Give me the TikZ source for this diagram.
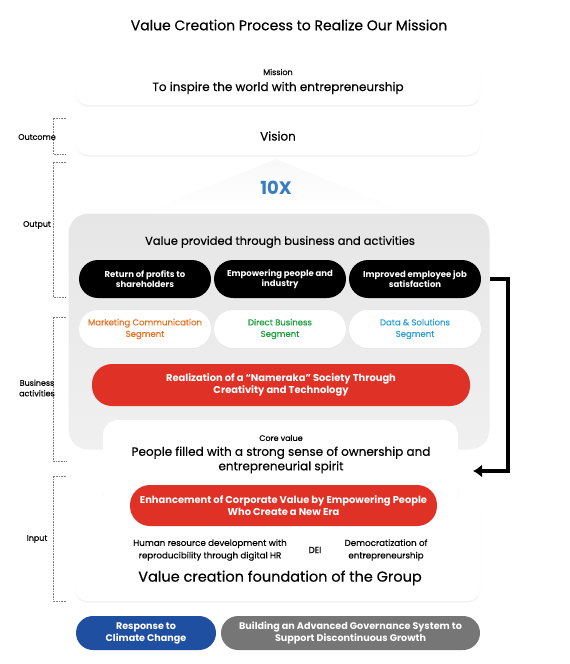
\documentclass[tikz,border=0pt]{standalone}
\usepackage{fontspec}
\setmainfont{Poppins}[FakeBold=0.35, BoldFeatures={FakeBold=0}]
\usetikzlibrary{arrows.meta,shadows}
\definecolor{tenxblue}{HTML}{3A7CC2}
\definecolor{segorange}{HTML}{E8701F}
\definecolor{seggreen}{HTML}{1E9E3E}
\definecolor{segblue}{HTML}{2BA0D9}
\definecolor{pillred}{HTML}{E03126}
\definecolor{climateblue}{HTML}{1F4FA0}
\definecolor{govgray}{HTML}{767676}
\definecolor{panelgray}{HTML}{E6E6E6}
\definecolor{panellight}{HTML}{F0F0F0}
\tikzset{
  card/.style={fill=white, rounded corners=12pt, drop shadow={shadow xshift=0pt, shadow yshift=-1.5pt, fill=gray!60, opacity=0.18}},
  pill/.style={rounded corners=19pt, minimum width=132pt, minimum height=38pt, align=center, font=\fontsize{8.5}{10.5}\selectfont\bfseries},
  outpill/.style={pill, fill=black, text=white},
  segpill/.style={pill, fill=white, font=\fontsize{8.5}{11.5}\selectfont, drop shadow={shadow xshift=0pt, shadow yshift=-1pt, opacity=0.06}},
  redpill/.style={rounded corners=20pt, fill=pillred, text=white, align=center, font=\fontsize{9.9}{12}\selectfont\bfseries},
  footpill/.style={rounded corners=17pt, minimum height=34pt, text=white, align=center, font=\fontsize{9.6}{12}\selectfont\bfseries},
  stage/.style={font=\fontsize{8}{10}\selectfont, align=center},
  bracket/.style={densely dotted, gray, line width=0.6pt}
}
\begin{document}
\begin{tikzpicture}[x=1pt,y=-1pt]
\useasboundingbox (0,0) rectangle (570,664);
% title
\node (title) at (289,25) {\fontsize{14}{16}\selectfont Value Creation Process to Realize Our Mission};
% mission and vision
\node[card, minimum width=404pt, minimum height=50pt] (mission) at (278,80) {};
\node[font=\fontsize{8}{10}\selectfont] (missionlbl) at (278,72) {Mission};
\node[font=\fontsize{12}{14}\selectfont] (missiontxt) at (278,88) {To inspire the world with entrepreneurship};
\node[card, minimum width=404pt, minimum height=38pt] (vision) at (278,136) {\fontsize{12}{14}\selectfont Vision};
% 10X
\shade[top color=gray!5, bottom color=white] (276,159) -- (410,214) -- (140,214) -- cycle;
\node[text=tenxblue, font=\fontsize{18}{20}\selectfont\bfseries] (tenx) at (276,188) {10X};
% output and business activities
\shade[top color=panelgray, bottom color=panellight, rounded corners=20pt, draw=white, line width=1pt] (68,213) rectangle (490,450);
\node[font=\fontsize{11.5}{13}\selectfont] (valuetxt) at (280,242) {Value provided through business and activities};
\node[outpill] (profits) at (145,279) {Return of profits to\\shareholders};
\node[outpill] (people) at (280,279) {Empowering people and\\industry};
\node[outpill] (satisf) at (415,279) {Improved employee job\\satisfaction};
\node[segpill, text=segorange] (marcom) at (145,329) {Marketing Communication\\Segment};
\node[segpill, text=seggreen] (direct) at (280,329) {Direct Business\\Segment};
\node[segpill, text=segblue] (datasol) at (415,329) {Data \& Solutions\\Segment};
\node[redpill, minimum width=378pt, minimum height=42pt] (nameraka) at (281,385) {Realization of a ``Nameraka'' Society Through\\Creativity and Technology};
% core value and input
\node[card, rounded corners=15pt, minimum width=355pt, minimum height=85pt] (core) at (280.5,462.5) {};
\node[font=\fontsize{8}{10}\selectfont] (corelbl) at (281,438) {Core value};
\node[font=\fontsize{12}{14.5}\selectfont, align=center] (coretxt) at (281,460) {People filled with a strong sense of ownership and\\entrepreneurial spirit};
\node[card, minimum width=405pt, minimum height=104pt] (found) at (277.5,549) {};
\node[redpill, minimum width=307pt, minimum height=41pt] (enhance) at (283.5,505.5) {Enhancement of Corporate Value by Empowering People\\Who Create a New Era};
\node[font=\fontsize{8.7}{12.5}\selectfont, align=center] (hrdev) at (210,550) {Human resource development with\\reproducibility through digital HR};
\node[font=\fontsize{8.7}{9}\selectfont] (dei) at (315,550) {DEI};
\node[font=\fontsize{8.7}{12.5}\selectfont, align=center] (democ) at (386,550) {Democratization of\\entrepreneurship};
\node[font=\fontsize{14.5}{16}\selectfont] (foundtxt) at (280,578) {Value creation foundation of the Group};
% bottom pills
\node[footpill, fill=climateblue, minimum width=140pt] (climate) at (146,633) {Response to\\Climate Change};
\node[footpill, fill=govgray, minimum width=259pt] (govern) at (350.5,633) {Building an Advanced Governance System to\\Support Discontinuous Growth};
% feedback arrow
\coordinate (aout) at (490,279);
\coordinate (ain) at (473,471);
\draw[line width=3.8pt, -{Latex[length=9pt,width=13pt]}] (aout) -- (508,279) |- (ain);
% stage brackets
\draw[bracket] (66,118) -- (53,118) -- (53,154) -- (66,154);
\draw[bracket] (66,162) -- (53,162) -- (53,297) -- (66,297);
\draw[bracket] (66,317) -- (53,317) -- (53,461) -- (66,461);
\draw[bracket] (66,476) -- (53,476) -- (53,601) -- (66,601);
\node[stage] (outcome) at (37,137) {Outcome};
\node[stage] (output) at (37,225) {Output};
\node[stage, font=\fontsize{8}{10.5}\selectfont] (business) at (37,388) {Business\\activities};
\node[stage] (input) at (37,539) {Input};
\end{tikzpicture}
\end{document}
